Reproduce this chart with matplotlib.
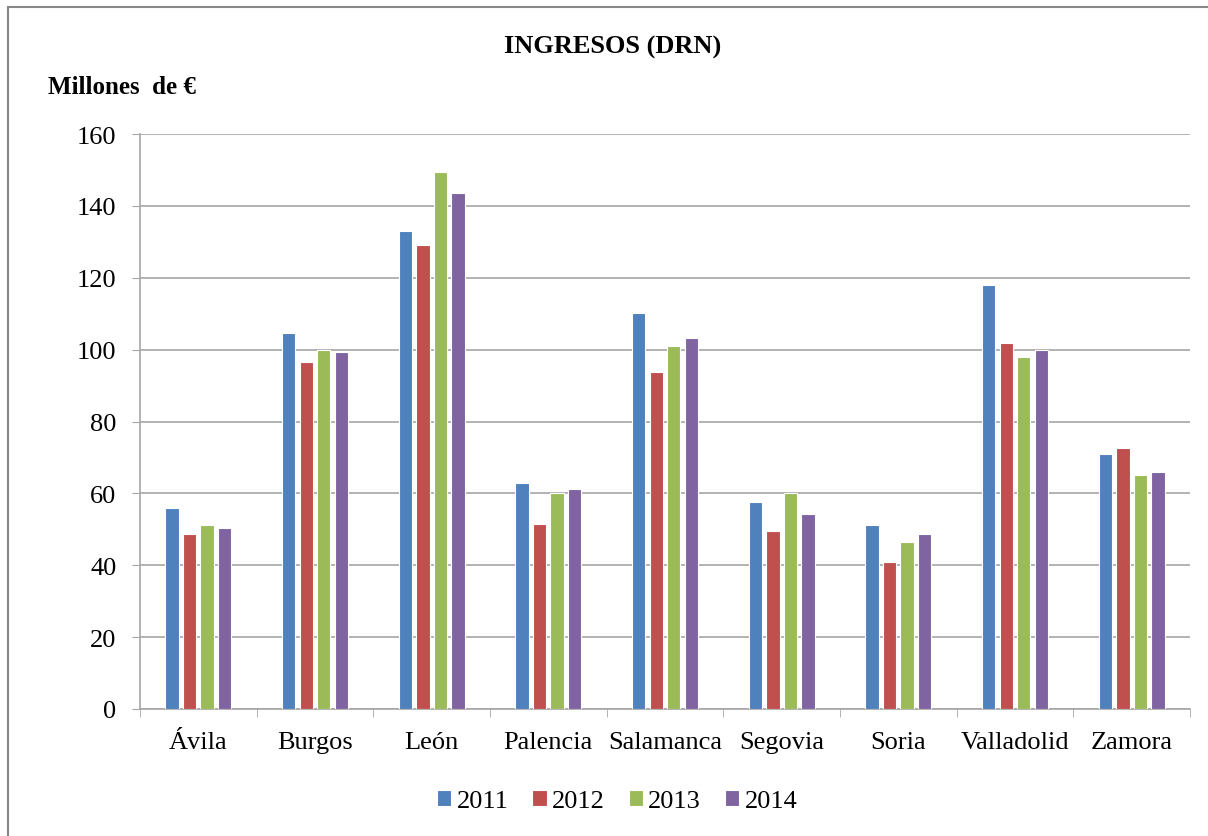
import numpy as np
import matplotlib
matplotlib.use("Agg")
import matplotlib.pyplot as plt
from matplotlib.patches import Rectangle

plt.rcParams['font.family'] = ['Liberation Serif', 'DejaVu Serif']

provincias = ["Ávila", "Burgos", "León", "Palencia", "Salamanca", "Segovia", "Soria", "Valladolid", "Zamora"]
years = ["2011", "2012", "2013", "2014"]
colors = ["#4F81BD", "#C0504D", "#9BBB59", "#8064A2"]

v2011 = [55.8, 104.7, 133.1, 63.0, 110.1, 57.6, 51.2, 118.0, 70.9]
v2012 = [48.6, 96.6, 129.0, 51.5, 93.7, 49.4, 40.8, 101.9, 72.7]
v2013 = [51.1, 99.9, 149.4, 60.1, 101.1, 60.0, 46.5, 97.9, 65.2]
v2014 = [50.4, 99.3, 143.5, 61.2, 103.3, 54.4, 48.6, 100.0, 66.0]
series = [v2011, v2012, v2013, v2014]

fig = plt.figure(figsize=(12.08, 8.37), dpi=100)
ax = fig.add_axes([140/1208, 1 - 710/837, 1050/1208, 575/837])

# marco exterior del gráfico
fig.patches.append(Rectangle((8/1208, -0.05), 1.1, 1 - 8/837 + 0.05, transform=fig.transFigure,
                             fill=False, edgecolor="#878787", linewidth=1.5))

x = np.arange(len(provincias))
pitch = 0.15
width = 0.115
for i, (vals, yr, col) in enumerate(zip(series, years, colors)):
    ax.bar(x + (i - 1.5) * pitch, vals, width, color=col, edgecolor="white", linewidth=0.8,
           label=yr, zorder=3)

ax.set_xlim(-0.5, len(provincias) - 0.5)
ax.set_ylim(0, 160)
ax.set_yticks(range(0, 161, 20))
ax.yaxis.grid(True, color="#a6a6a6", linewidth=1.2, zorder=0)
ax.set_axisbelow(True)

ax.set_xticks(x)
ax.set_xticklabels(provincias, fontsize=19)
ax.set_xticks(np.arange(-0.5, len(provincias)), minor=True)
ax.tick_params(axis="x", which="major", length=0, pad=16)
ax.tick_params(axis="x", which="minor", length=6, color="#a6a6a6")
ax.tick_params(axis="y", labelsize=19, length=6, color="#a6a6a6", pad=11)

for s in ["top", "right"]:
    ax.spines[s].set_visible(False)
for s in ["left", "bottom"]:
    ax.spines[s].set_color("#a6a6a6")
    ax.spines[s].set_linewidth(1.2)

fig.text(613/1208, 1 - 47/837, "INGRESOS (DRN)", ha="center", va="center", fontsize=19, fontweight="bold")
fig.text(48/1208, 1 - 87/837, "Millones  de €", ha="left", va="center", fontsize=18, fontweight="bold")

fig.legend(loc="center", bbox_to_anchor=(617/1208, 1 - 802/837), ncol=4, frameon=False,
           fontsize=19, handlelength=0.55, handleheight=0.55, handletextpad=0.2, columnspacing=0.9)

fig.savefig("out.png", dpi=100)
